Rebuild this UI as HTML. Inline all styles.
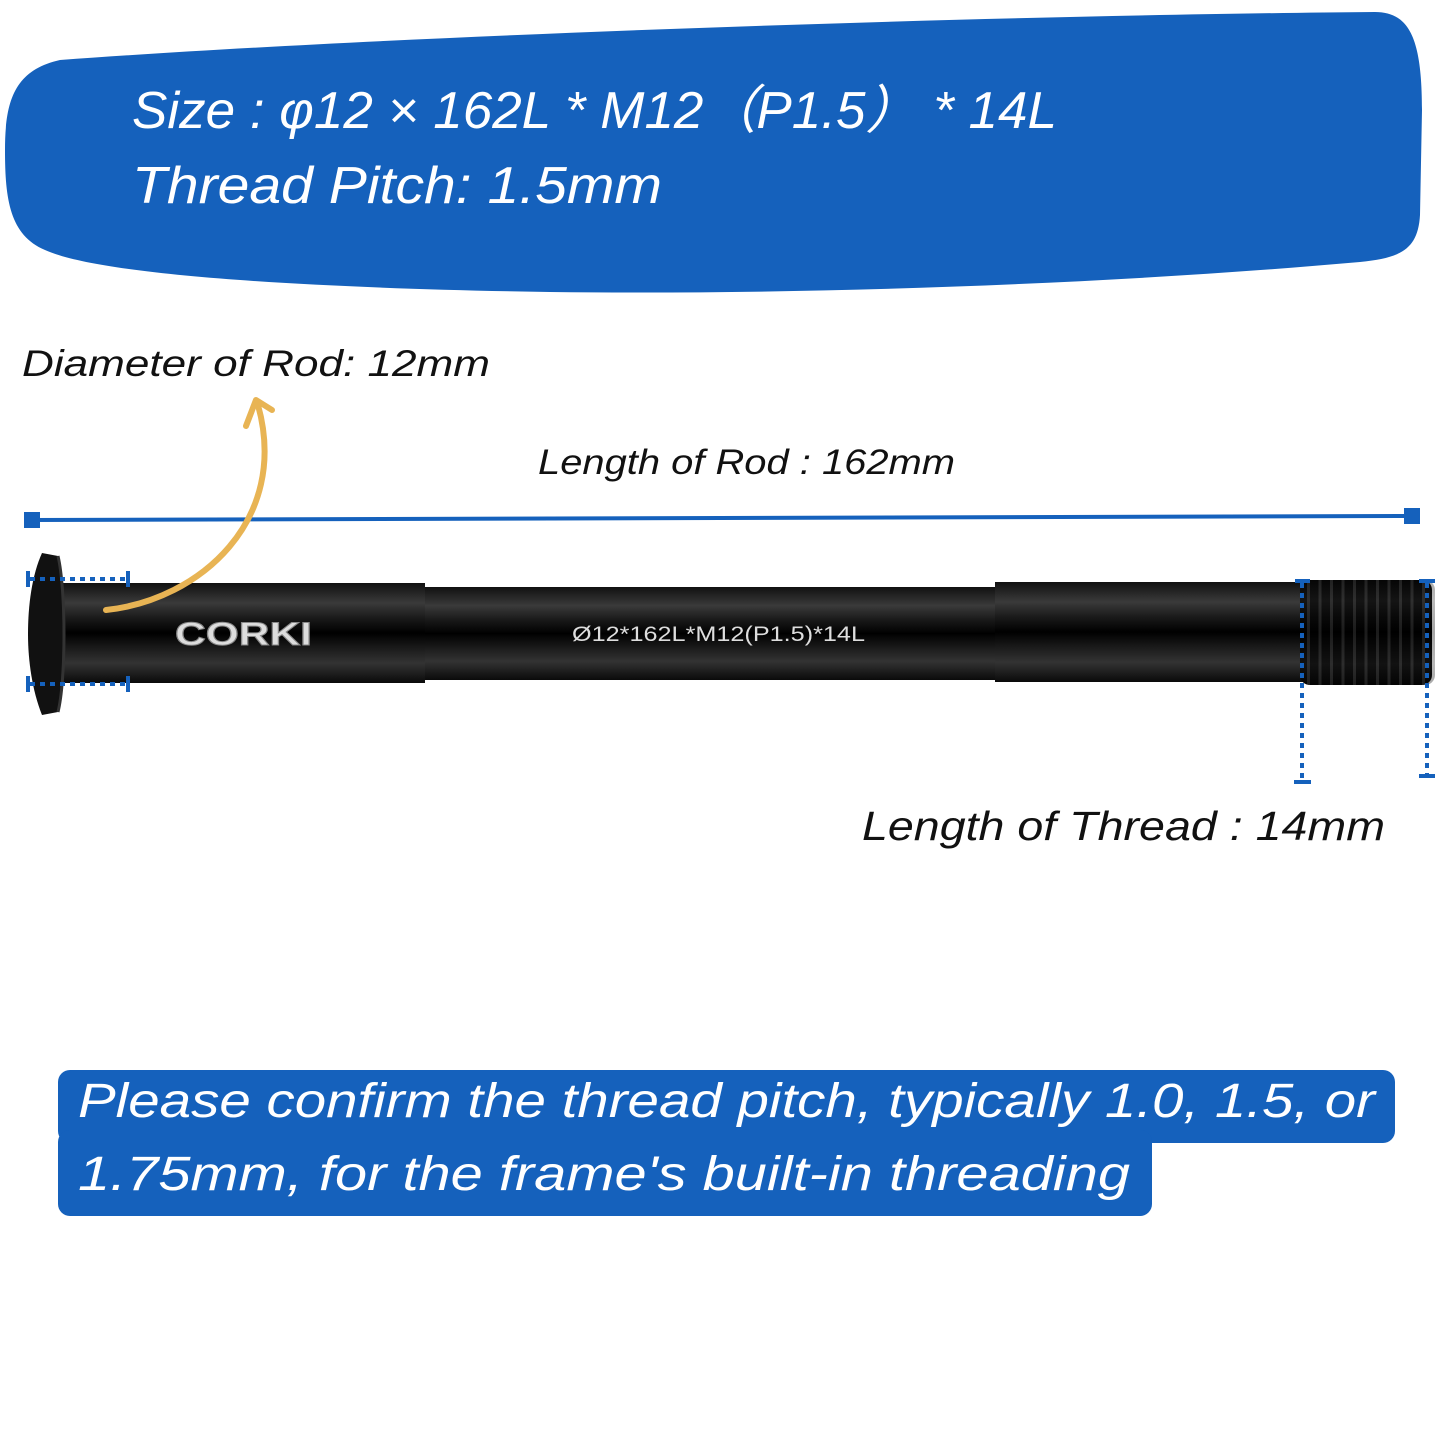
<!DOCTYPE html>
<html><head><meta charset="utf-8"><style>
html,body{margin:0;padding:0;background:#fff}
svg text{font-family:"Liberation Sans","DejaVu Sans",sans-serif;font-style:italic}
</style></head><body>
<svg width="1445" height="1445" viewBox="0 0 1445 1445" xmlns="http://www.w3.org/2000/svg">
<defs>
<linearGradient id="rod" x1="0" y1="0" x2="0" y2="1">
<stop offset="0" stop-color="#111"/><stop offset="0.2" stop-color="#3a3a3a"/><stop offset="0.35" stop-color="#1a1a1a"/><stop offset="0.5" stop-color="#000"/><stop offset="0.65" stop-color="#1a1a1a"/><stop offset="0.8" stop-color="#333"/><stop offset="1" stop-color="#0a0a0a"/>
</linearGradient>
<pattern id="thr" x="1300" y="0" width="11.5" height="10" patternUnits="userSpaceOnUse">
<rect width="11.5" height="10" fill="#000"/><rect x="7" width="3" height="10" fill="#2a2a2a"/>
</pattern>
</defs>
<path d="M60,60 C400,35 1000,15 1375,12 C1410,12 1422,40 1422,110 L1420,215 C1418,250 1400,258 1360,262 C1100,285 800,295 550,292 C300,288 100,275 45,250 C10,235 5,200 5,150 C5,100 15,70 60,60 Z" fill="#1561bc"/>
<text x="132" y="128" font-size="52" fill="#fff" textLength="925" lengthAdjust="spacingAndGlyphs">Size : φ12 × 162L * M12（P1.5） * 14L</text>
<text x="132" y="203" font-size="52" fill="#fff" textLength="530" lengthAdjust="spacingAndGlyphs">Thread Pitch: 1.5mm</text>
<text x="22" y="376" font-size="37" fill="#111" textLength="468" lengthAdjust="spacingAndGlyphs">Diameter of Rod: 12mm</text>
<text x="538" y="474" font-size="35" fill="#111" textLength="417" lengthAdjust="spacingAndGlyphs">Length of Rod : 162mm</text>
<line x1="32" y1="520" x2="1412" y2="516" stroke="#1561bc" stroke-width="4"/>
<rect x="24" y="512" width="16" height="16" fill="#1561bc"/>
<rect x="1404" y="508" width="16" height="16" fill="#1561bc"/>
<rect x="50" y="583" width="375" height="100" fill="url(#rod)"/>
<rect x="425" y="587" width="570" height="93" fill="url(#rod)"/>
<rect x="995" y="582" width="308" height="100" fill="url(#rod)"/>
<rect x="1300" y="580" width="132" height="105" rx="10" fill="url(#thr)"/>
<rect x="1300" y="580" width="135" height="105" rx="10" fill="url(#rod)" opacity="0.35"/>
<path d="M42,553 L58,556 C64,590 64,680 58,712 L42,715 C32,690 28,660 28,634 C28,605 32,575 42,553 Z" fill="#111"/>
<path d="M58,556 C66,590 66,680 58,712" stroke="#333" stroke-width="3" fill="none"/>
<text x="175" y="645" font-size="32" font-weight="bold" fill="#ddd" stroke="#888" stroke-width="1" style="font-style:normal" textLength="137" lengthAdjust="spacingAndGlyphs">CORKI</text>
<text x="572" y="641" font-size="21" fill="#ddd" style="font-style:normal" textLength="293" lengthAdjust="spacingAndGlyphs">Ø12*162L*M12(P1.5)*14L</text>
<g stroke="#1561bc" stroke-width="4" stroke-dasharray="5 5" fill="none">
<line x1="30" y1="579" x2="128" y2="579"/><line x1="30" y1="684" x2="128" y2="684"/>
<line x1="1302" y1="583" x2="1302" y2="780"/><line x1="1427" y1="583" x2="1427" y2="775"/>
</g>
<g stroke="#1561bc" stroke-width="4">
<line x1="28" y1="571" x2="28" y2="587"/><line x1="128" y1="571" x2="128" y2="587"/>
<line x1="28" y1="676" x2="28" y2="692"/><line x1="128" y1="676" x2="128" y2="692"/>
<line x1="1295" y1="581" x2="1310" y2="581"/><line x1="1294" y1="782" x2="1311" y2="782"/>
<line x1="1419" y1="581" x2="1435" y2="581"/><line x1="1419" y1="776" x2="1435" y2="776"/>
</g>
<path d="M106,610 C200,600 290,520 258,405" stroke="#e8b454" stroke-width="6" fill="none" stroke-linecap="round"/>
<path d="M246,426 L256,400 L272,410" stroke="#e8b454" stroke-width="6" fill="none" stroke-linecap="round" stroke-linejoin="round"/>
<text x="862" y="840" font-size="41" fill="#111" textLength="523" lengthAdjust="spacingAndGlyphs">Length of Thread : 14mm</text>
<rect x="58" y="1070" width="1337" height="73" rx="12" fill="#1561bc"/>
<rect x="58" y="1130" width="1094" height="86" rx="12" fill="#1561bc"/>
<text x="78" y="1117" font-size="48" fill="#fff" textLength="1297" lengthAdjust="spacingAndGlyphs">Please confirm the thread pitch, typically 1.0, 1.5, or</text>
<text x="78" y="1190" font-size="48" fill="#fff" textLength="1052" lengthAdjust="spacingAndGlyphs">1.75mm, for the frame's built-in threading</text>
</svg>
</body></html>
